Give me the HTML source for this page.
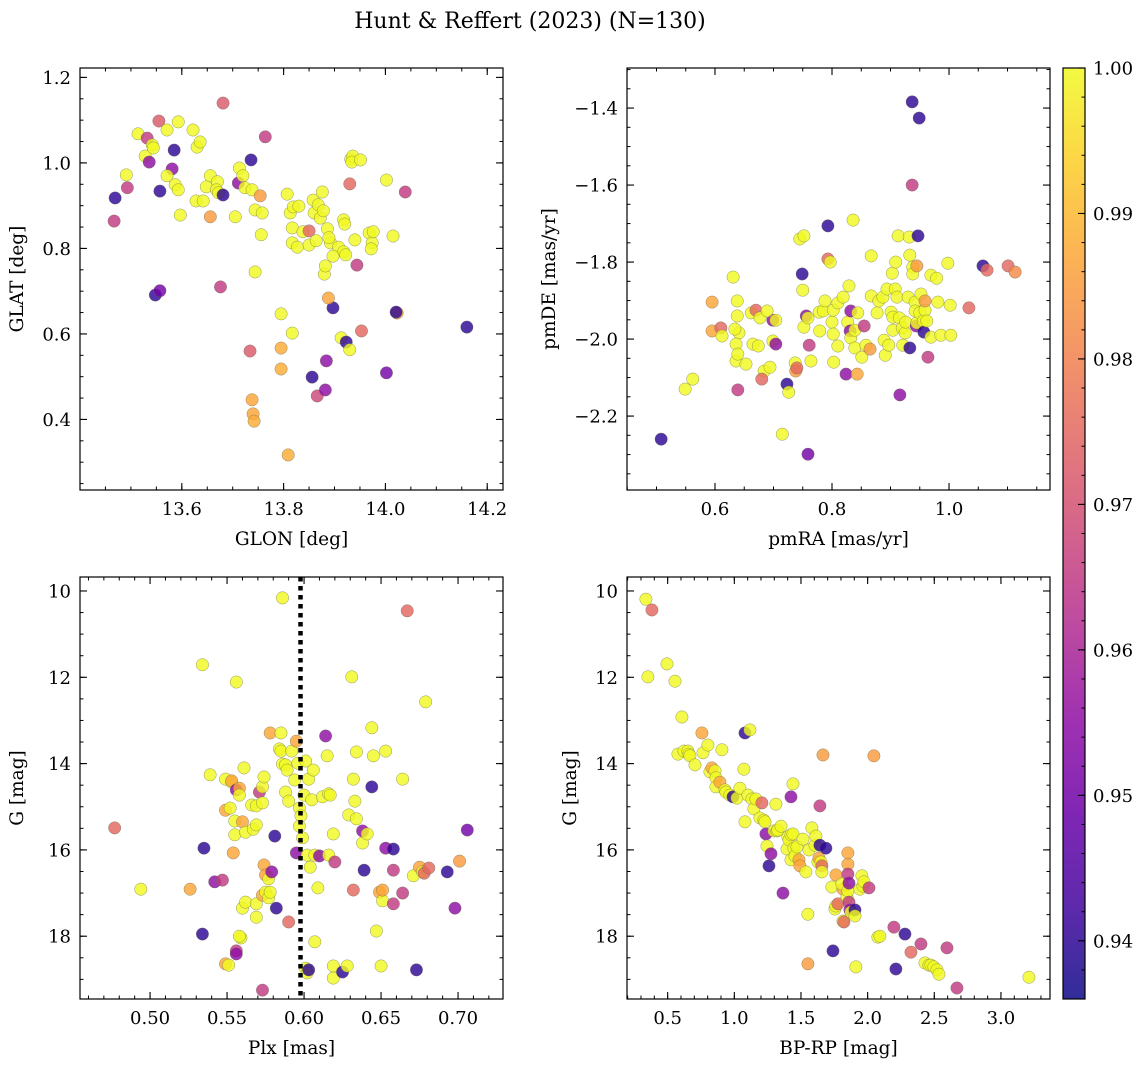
<!DOCTYPE html>
<html><head><meta charset="utf-8"><style>
body{margin:0;background:#fff;}
svg text{font-family:"DejaVu Serif","Liberation Serif",serif;fill:#000;}
</style></head><body>
<svg id="fig" width="1148" height="1067" viewBox="0 0 1148 1067" xmlns="http://www.w3.org/2000/svg">
<rect width="1148" height="1067" fill="#fff"/>
<text x="530" y="28" font-size="22" text-anchor="middle">Hunt &amp; Reffert (2023) (N=130)</text>
<defs><linearGradient id="cbg" x1="0" y1="1" x2="0" y2="0"></linearGradient></defs>
</svg>
<script>
// ---- data: top-left (GLON vs GLAT)
const tlGlon=[13.469,13.467,13.493,13.491,13.514,13.532,13.528,13.536,13.542,13.544,13.555,13.571,13.593,13.585,13.581,13.557,13.571,13.587,13.593,13.597,13.548,13.557,13.622,13.630,13.636,13.628,13.642,13.656,13.648,13.656,13.670,13.668,13.672,13.681,13.676,13.681,13.705,13.711,13.713,13.720,13.724,13.736,13.738,13.744,13.754,13.764,13.744,13.756,13.758,13.734,13.738,13.740,13.742,13.795,13.795,13.795,13.817,13.809,13.807,13.813,13.819,13.817,13.817,13.827,13.830,13.838,13.850,13.850,13.860,13.858,13.868,13.872,13.878,13.876,13.864,13.880,13.886,13.892,13.908,13.889,13.918,13.918,13.920,13.897,13.922,13.930,13.932,13.936,13.934,13.951,13.940,13.944,13.882,13.897,13.888,13.913,13.923,13.930,13.953,13.968,13.974,13.972,13.976,14.002,14.015,14.023,14.021,14.002,14.039,13.856,13.866,13.882,13.884,14.160];
const tlGlat=[0.918,0.864,0.942,0.972,1.068,1.058,1.016,1.002,1.042,1.035,1.098,1.077,1.096,1.030,0.986,0.934,0.970,0.949,0.937,0.878,0.691,0.701,1.077,1.037,1.049,0.911,0.911,0.874,0.944,0.970,0.956,0.937,0.930,1.140,0.710,0.925,0.874,0.953,0.988,0.970,0.942,1.007,0.937,0.890,0.923,1.061,0.745,0.832,0.883,0.560,0.446,0.413,0.396,0.567,0.518,0.647,0.602,0.317,0.927,0.883,0.897,0.848,0.813,0.803,0.899,0.839,0.808,0.841,0.883,0.913,0.902,0.871,0.888,0.932,0.818,0.740,0.846,0.813,0.803,0.825,0.867,0.792,0.857,0.782,0.785,0.951,1.009,1.016,1.002,1.007,0.820,0.761,0.759,0.661,0.684,0.591,0.581,0.563,0.607,0.836,0.813,0.799,0.839,0.960,0.829,0.649,0.651,0.509,0.932,0.499,0.455,0.469,0.537,0.616];
const tlProb=[0.94,0.965,0.965,1,1,0.965,1,0.955,1,1,0.972,1,1,0.94,0.955,0.94,1,1,1,1,0.94,0.95,1,1,1,1,1,0.985,1,1,1,1,1,0.972,0.965,0.94,1,0.955,1,1,1,0.94,1,1,0.985,0.965,1,1,1,0.972,0.987,0.987,0.988,0.988,0.988,1,1,0.988,1,1,1,1,1,1,1,1,1,0.975,1,1,1,1,1,1,1,1,1,1,1,1,1,1,1,1,1,0.975,1,1,1,1,1,0.965,1,0.94,0.987,1,0.94,1,0.975,1,1,1,1,1,1,0.988,0.94,0.95,0.965,0.94,0.968,0.955,0.955,0.94];
// ---- data: top-right (pmRA vs pmDE)
const trPmra=[0.508,0.549,0.562,0.595,0.595,0.610,0.612,0.631,0.638,0.638,0.641,0.636,0.634,0.636,0.639,0.639,0.653,0.662,0.670,0.665,0.674,0.677,0.684,0.680,0.694,0.699,0.699,0.689,0.704,0.704,0.715,0.723,0.726,0.737,0.738,0.740,0.745,0.749,0.750,0.752,0.752,0.756,0.759,0.759,0.761,0.764,0.778,0.779,0.785,0.788,0.793,0.793,0.797,0.800,0.802,0.802,0.803,0.810,0.810,0.819,0.824,0.827,0.829,0.831,0.832,0.832,0.836,0.839,0.839,0.843,0.844,0.851,0.855,0.858,0.865,0.867,0.867,0.877,0.880,0.887,0.889,0.891,0.894,0.897,0.901,0.903,0.904,0.904,0.909,0.908,0.911,0.913,0.915,0.916,0.920,0.921,0.925,0.926,0.930,0.932,0.933,0.933,0.937,0.937,0.938,0.938,0.942,0.942,0.944,0.945,0.945,0.947,0.949,0.950,0.952,0.956,0.957,0.959,0.959,0.962,0.964,0.969,0.969,0.979,0.981,0.986,0.998,1.002,1.003,1.034,1.058,1.065,1.101,1.113];
const trPmde=[-2.260,-2.130,-2.104,-1.904,-1.979,-1.971,-1.992,-1.839,-1.901,-1.940,-1.984,-2.013,-1.974,-2.057,-2.039,-2.132,-2.065,-1.932,-1.925,-2.013,-2.018,-1.945,-2.083,-2.104,-2.073,-2.005,-1.951,-1.927,-1.951,-2.013,-2.247,-2.117,-2.138,-2.062,-2.083,-2.075,-1.740,-1.831,-1.873,-1.732,-1.969,-1.940,-1.945,-2.299,-2.016,-2.057,-1.930,-1.979,-1.927,-1.901,-1.706,-1.792,-1.800,-1.956,-1.925,-1.987,-2.060,-1.906,-2.018,-1.891,-2.091,-1.956,-1.862,-1.979,-1.927,-1.997,-1.691,-1.977,-2.023,-2.091,-1.932,-2.047,-1.966,-2.016,-2.026,-1.784,-1.888,-1.932,-1.901,-1.891,-2.003,-2.042,-1.870,-2.016,-1.930,-1.829,-1.943,-1.977,-1.800,-1.870,-1.891,-1.732,-1.945,-2.145,-1.971,-2.016,-1.984,-1.956,-1.891,-1.735,-1.782,-2.023,-1.384,-1.600,-1.813,-1.831,-1.904,-1.927,-1.966,-1.958,-1.810,-1.732,-1.426,-1.932,-1.883,-1.953,-1.982,-1.925,-1.901,-1.953,-2.047,-1.834,-1.995,-1.842,-1.904,-1.990,-1.803,-1.912,-1.990,-1.919,-1.810,-1.821,-1.810,-1.826];
const trProb=[0.94,1,1,0.987,0.987,0.975,1,1,1,1,1,1,1,1,1,0.965,1,1,0.975,1,1,1,1,0.975,1,1,0.955,1,1,0.955,1,0.94,1,1,0.985,0.975,1,0.94,1,1,1,0.955,1,0.95,0.965,1,1,1,1,1,0.94,0.975,1,1,1,1,1,1,1,1,0.955,1,1,0.955,0.955,1,1,1,1,0.987,1,1,0.965,1,0.985,1,1,1,1,1,1,1,1,1,1,1,1,1,1,1,1,1,1,0.955,1,1,1,1,1,1,1,0.94,0.94,0.965,1,1,1,1,0.955,1,0.985,0.94,0.94,1,1,1,0.94,1,0.985,1,0.965,1,1,1,1,1,1,1,1,0.975,0.94,0.975,0.975,0.982];
// ---- data: bottom-left (Plx vs G)
const blPlx=[0.477,0.494,0.526,0.534,0.539,0.534,0.535,0.542,0.547,0.549,0.549,0.549,0.551,0.553,0.552,0.553,0.554,0.555,0.555,0.556,0.556,0.556,0.556,0.558,0.558,0.559,0.558,0.560,0.560,0.562,0.561,0.562,0.566,0.567,0.569,0.569,0.569,0.569,0.571,0.573,0.573,0.574,0.574,0.573,0.575,0.577,0.578,0.575,0.577,0.573,0.578,0.579,0.581,0.582,0.584,0.585,0.586,0.585,0.586,0.588,0.588,0.589,0.590,0.590,0.592,0.594,0.595,0.595,0.596,0.597,0.597,0.598,0.599,0.600,0.601,0.603,0.602,0.604,0.601,0.602,0.603,0.605,0.606,0.607,0.607,0.609,0.610,0.612,0.614,0.615,0.616,0.617,0.619,0.616,0.619,0.619,0.620,0.625,0.628,0.629,0.631,0.632,0.633,0.632,0.634,0.634,0.638,0.638,0.639,0.641,0.644,0.645,0.644,0.649,0.651,0.651,0.650,0.653,0.653,0.658,0.658,0.658,0.664,0.667,0.671,0.673,0.675,0.677,0.679,0.678,0.681,0.693,0.698,0.701,0.706,0.664,0.647];
const blG=[15.49,16.91,16.91,11.71,14.26,17.95,15.96,16.74,16.70,15.08,14.36,18.64,18.67,14.43,15.03,14.40,16.07,15.33,15.65,12.11,18.34,18.41,14.61,14.57,14.73,18.04,18.00,15.35,17.35,15.59,14.10,17.21,14.96,15.52,14.98,15.42,17.25,17.56,14.66,14.91,14.54,14.31,16.35,17.05,16.98,17.11,16.98,16.58,16.67,19.25,13.29,16.51,15.68,17.35,13.66,13.29,10.16,13.71,14.01,14.03,14.66,14.15,14.87,17.67,13.71,14.38,16.07,13.48,13.99,15.03,15.45,15.21,15.72,14.73,13.94,14.36,16.12,16.40,18.74,18.85,18.78,14.84,14.15,16.12,18.13,16.88,16.14,14.77,13.36,13.82,14.70,14.73,15.63,16.12,18.69,18.97,16.28,18.83,18.69,15.19,11.99,14.36,14.87,16.93,13.73,15.28,15.84,15.56,16.47,15.63,14.54,13.82,13.17,16.98,17.18,16.93,18.69,13.71,15.96,16.47,15.98,17.25,17.00,10.46,16.60,18.78,16.40,16.51,12.57,16.54,16.42,16.51,17.35,16.26,15.54,14.36,17.88];
const blProb=[0.975,1,0.987,1,1,0.94,0.94,0.955,0.965,0.987,1,0.987,1,1,1,0.987,0.987,1,1,1,0.965,0.955,0.955,0.987,1,1,1,0.987,1,1,1,1,1,1,1,1,1,1,0.965,1,1,1,0.987,0.987,1,1,1,0.987,1,0.965,0.987,0.955,0.94,0.94,1,1,1,1,1,1,1,1,1,0.975,1,1,0.955,0.987,1,1,1,1,1,1,1,1,1,1,1,1,0.94,1,1,1,1,1,0.955,1,0.955,1,1,1,1,1,1,1,0.965,0.94,1,1,1,1,1,0.975,1,1,1,0.955,0.94,1,0.94,1,1,0.987,1,0.987,1,1,0.955,0.965,0.94,0.965,0.965,0.975,1,0.94,0.987,1,1,0.975,0.975,0.94,0.955,0.985,0.95,1,1];
// ---- data: bottom-right (BP-RP vs G)
const brBprp=[0.337,0.382,0.352,0.495,0.555,0.607,0.577,0.622,0.652,0.660,0.667,0.705,0.757,0.765,0.802,0.817,0.832,0.855,0.862,0.862,0.892,0.907,0.930,0.937,0.967,0.990,1.020,1.042,1.072,1.080,1.117,1.080,1.102,1.132,1.147,1.162,1.192,1.207,1.222,1.230,1.237,1.245,1.260,1.275,1.297,1.312,1.320,1.327,1.365,1.350,1.395,1.402,1.410,1.425,1.425,1.425,1.440,1.440,1.447,1.455,1.470,1.485,1.492,1.515,1.537,1.560,1.552,1.552,1.582,1.605,1.612,1.627,1.635,1.642,1.650,1.657,1.657,1.642,1.665,1.687,1.732,1.740,1.755,1.762,1.762,1.777,1.815,1.815,1.807,1.822,1.845,1.852,1.852,1.852,1.852,1.860,1.860,1.867,1.875,1.905,1.905,1.912,1.942,1.965,1.957,1.972,2.010,2.047,2.077,2.092,2.197,2.212,2.280,2.325,2.400,2.430,2.460,2.475,2.497,2.520,2.535,2.595,2.670,3.210];
const brG=[10.19,10.44,11.99,11.69,12.09,12.92,13.78,13.71,13.71,13.78,13.82,14.03,13.29,13.75,13.57,14.19,14.10,14.17,14.33,14.54,14.43,13.68,14.61,14.66,14.73,14.77,14.80,14.57,14.13,13.29,13.22,15.35,14.73,14.82,15.05,14.82,15.26,14.91,15.31,15.35,15.63,15.91,16.37,16.09,15.56,14.94,15.56,15.54,17.00,15.45,15.98,15.70,15.77,15.65,16.23,14.77,14.47,15.63,15.96,16.14,15.93,16.23,16.37,15.75,16.51,16.00,17.49,18.64,15.49,15.89,15.68,16.28,16.19,15.89,16.28,16.37,16.51,14.98,13.80,15.96,16.86,18.34,17.37,17.30,16.58,17.25,17.65,16.91,16.79,17.67,17.09,16.95,16.33,16.07,16.56,17.21,16.77,17.39,17.44,17.39,17.53,18.71,16.91,16.84,16.60,16.74,16.88,13.82,18.02,18.00,17.79,18.76,17.95,18.37,18.18,18.62,18.67,18.67,18.71,18.78,18.88,18.27,19.20,18.95];
const brProb=[1,0.975,1,1,1,1,1,1,1,1,1,1,0.987,1,1,1,0.987,1,1,1,0.987,1,1,1,1,0.94,1,1,1,0.94,1,1,1,1,1,1,1,0.975,1,1,0.955,1,0.94,0.955,1,1,1,1,0.955,1,1,1,1,1,1,0.955,1,1,1,1,1,0.987,0.987,1,1,1,1,0.985,1,1,1,1,0.987,0.94,1,0.975,1,0.965,0.985,0.94,1,0.94,1,1,0.987,0.975,1,0.987,1,0.975,1,1,0.987,0.987,0.965,0.965,0.955,0.955,1,0.94,1,1,1,1,1,1,0.965,0.985,1,1,0.965,0.94,0.94,0.975,0.965,1,1,1,1,1,1,0.965,0.965,1];
// ---- colorbar ticks
const cbTicks=[0.94,0.95,0.96,0.97,0.98,0.99,1.00];
const plxLine=[0.5977];

const NS='http://www.w3.org/2000/svg';
const svg=document.getElementById('fig');
const VMIN=0.936,VMAX=1.0;
const TICKFS=18, LABFS=18.5;
const PL=[[13,8,135],[65,4,157],[106,0,168],[143,13,164],[177,42,144],[204,71,120],[225,100,98],[242,132,75],[252,166,54],[252,206,37],[240,249,33]];
function plasma(t){t=Math.max(0,Math.min(1,t));const f=t*10,i=Math.min(9,Math.floor(f)),r=f-i;const a=PL[i],b=PL[i+1];return 'rgb('+[0,1,2].map(k=>Math.round(a[k]+(b[k]-a[k])*r)).join(',')+')';}
function el(tag,attrs,parent){const e=document.createElementNS(NS,tag);for(const k in attrs)e.setAttribute(k,attrs[k]);(parent||svg).appendChild(e);return e;}
function fmt(v,d){return (v<0?'\u2212':'')+Math.abs(v).toFixed(d);}

function panel(cfg){
  const g=el('g',{});
  
  
  const {x0,x1,y0,y1}=cfg.box;
  const sx=v=>x0+(v-cfg.xd[0])/(cfg.xd[1]-cfg.xd[0])*(x1-x0);
  const sy=cfg.yinv?(v=>y0+(v-cfg.yd[0])/(cfg.yd[1]-cfg.yd[0])*(y1-y0)):(v=>y1-(v-cfg.yd[0])/(cfg.yd[1]-cfg.yd[0])*(y1-y0));
  const pts=el('g',{},g);
  
  
  for(let i=0;i<cfg.xs.length;i++){
    const c=el('circle',{cx:sx(cfg.xs[i]),cy:sy(cfg.ys[i]),r:6.2,fill:plasma((cfg.ps[i]-VMIN)/(VMAX-VMIN)),'fill-opacity':0.82,stroke:'#6b6b50','stroke-width':0.5,'stroke-opacity':0.7},pts);
    
    
  }
  if(cfg.vline){cfg.vline.forEach(v=>{const l=el('line',{x1:sx(v),x2:sx(v),y1:y0,y2:y1,stroke:'#000','stroke-width':4.5,'stroke-dasharray':'4.5,4.5'},g);
    
    });}
  const ax=el('g',{},g);
  
  
  el('rect',{x:x0,y:y0,width:x1-x0,height:y1-y0,fill:'none',stroke:'#000','stroke-width':1.2},ax);
  const eps=1e-9;
  function ticksX(step,len){const s=Math.ceil(cfg.xd[0]/step-eps);for(let k=s;k*step<=cfg.xd[1]+eps;k++){const x=sx(k*step);el('line',{x1:x,x2:x,y1:y1,y2:y1-len,stroke:'#000','stroke-width':1},ax);el('line',{x1:x,x2:x,y1:y0,y2:y0+len,stroke:'#000','stroke-width':1},ax);}}
  function ticksY(step,len){const lo=Math.min(...cfg.yd),hi=Math.max(...cfg.yd);const s=Math.ceil(lo/step-eps);for(let k=s;k*step<=hi+eps;k++){const y=sy(k*step);el('line',{x1:x0,x2:x0+len,y1:y,y2:y,stroke:'#000','stroke-width':1},ax);el('line',{x1:x1,x2:x1-len,y1:y,y2:y,stroke:'#000','stroke-width':1},ax);}}
  ticksX(cfg.xminor,3.5);ticksY(cfg.yminor,3.5);
  cfg.xmaj.forEach(v=>{const x=sx(v);el('line',{x1:x,x2:x,y1:y1,y2:y1-7,stroke:'#000','stroke-width':1.1},ax);el('line',{x1:x,x2:x,y1:y0,y2:y0+7,stroke:'#000','stroke-width':1.1},ax);
    const t=el('text',{x:x,y:y1+25,'font-size':TICKFS,'text-anchor':'middle'},ax);t.textContent=fmt(v,cfg.xdec);
    
    });
  cfg.ymaj.forEach(v=>{const y=sy(v);el('line',{x1:x0,x2:x0+7,y1:y,y2:y,stroke:'#000','stroke-width':1.1},ax);el('line',{x1:x1,x2:x1-7,y1:y,y2:y,stroke:'#000','stroke-width':1.1},ax);
    const t=el('text',{x:x0-9,y:y+6.5,'font-size':TICKFS,'text-anchor':'end'},ax);t.textContent=fmt(v,cfg.ydec);
    
    });
  const xl=el('text',{x:(x0+x1)/2,y:y1+55,'font-size':LABFS,'text-anchor':'middle'},ax);xl.textContent=cfg.xlabel;
  
  
  const yc=(y0+y1)/2;
  const yl=el('text',{x:cfg.ylx,y:yc,'font-size':LABFS,'text-anchor':'middle',transform:'rotate(-90 '+cfg.ylx+' '+yc+')'},ax);yl.textContent=cfg.ylabel;
  
  
}

panel({name:'glon-glat-panel',box:{x0:80,x1:503,y0:68,y1:490},xd:[13.400,14.231],yd:[0.235,1.222],xs:tlGlon,ys:tlGlat,ps:tlProb,
  xmaj:[13.6,13.8,14.0,14.2],xminor:0.05,xdec:1,ymaj:[0.4,0.6,0.8,1.0,1.2],yminor:0.05,ydec:1,xlabel:'GLON [deg]',ylabel:'GLAT [deg]',ylx:23});
panel({name:'pm-panel',box:{x0:627,x1:1050,y0:68,y1:490},xd:[0.4496,1.1726],yd:[-2.392,-1.296],xs:trPmra,ys:trPmde,ps:trProb,
  xmaj:[0.6,0.8,1.0],xminor:0.05,xdec:1,ymaj:[-2.2,-2.0,-1.8,-1.6,-1.4],yminor:0.05,ydec:1,xlabel:'pmRA [mas/yr]',ylabel:'pmDE [mas/yr]',ylx:555});
panel({name:'plx-g-panel',box:{x0:80,x1:503,y0:577,y1:999},xd:[0.4545,0.7292],yd:[9.676,19.455],yinv:true,xs:blPlx,ys:blG,ps:blProb,vline:plxLine,
  xmaj:[0.50,0.55,0.60,0.65,0.70],xminor:0.01,xdec:2,ymaj:[10,12,14,16,18],yminor:0.5,ydec:0,xlabel:'Plx [mas]',ylabel:'G [mag]',ylx:23});
panel({name:'cmd-panel',box:{x0:627,x1:1050,y0:577,y1:999},xd:[0.195,3.368],yd:[9.676,19.455],yinv:true,xs:brBprp,ys:brG,ps:brProb,
  xmaj:[0.5,1.0,1.5,2.0,2.5,3.0],xminor:0.1,xdec:1,ymaj:[10,12,14,16,18],yminor:0.5,ydec:0,xlabel:'BP-RP [mag]',ylabel:'G [mag]',ylx:576});

// colorbar
(function(){
  const grad=document.getElementById('cbg');
  for(let i=0;i<=10;i++){el('stop',{offset:(i*10)+'%','stop-color':plasma(i/10),'stop-opacity':0.85},grad);}
  const g=el('g',{});
  
  
  const cx0=1063,cx1=1085,cy0=68,cy1=999;
  const sy=v=>cy1-(v-VMIN)/(VMAX-VMIN)*(cy1-cy0);
  el('rect',{x:cx0,y:cy0,width:cx1-cx0,height:cy1-cy0,fill:'url(#cbg)',stroke:'#000','stroke-width':1.2},g);
  for(let k=Math.ceil(VMIN/0.002-1e-9);k*0.002<=VMAX+1e-9;k++){const y=sy(k*0.002);el('line',{x1:cx1,x2:cx1-3.5,y1:y,y2:y,stroke:'#000','stroke-width':1},g);}
  cbTicks.forEach(v=>{const y=sy(v);el('line',{x1:cx1,x2:cx1-7,y1:y,y2:y,stroke:'#000','stroke-width':1.1},g);
    const t=el('text',{x:cx1+8,y:y+6.5,'font-size':TICKFS},g);t.textContent=v.toFixed(2);
    
    });
})();
</script>
</body></html>
